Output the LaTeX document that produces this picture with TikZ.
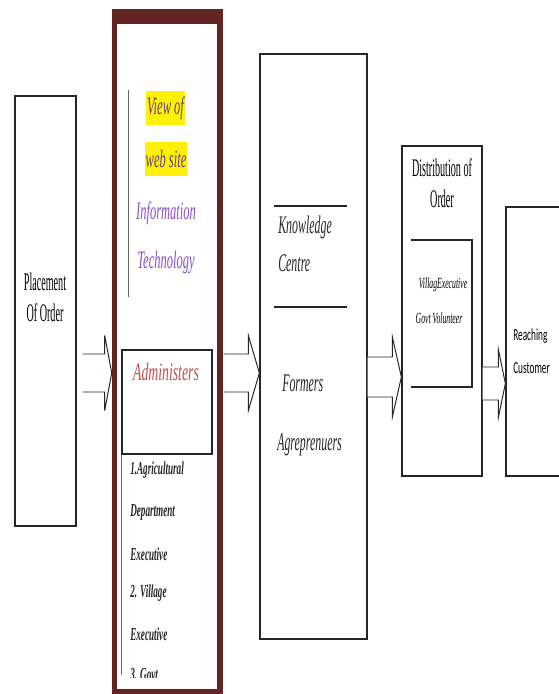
\documentclass[tikz,border=0pt]{standalone}
\usepackage{fontspec}
\setmainfont{Liberation Serif}
\newfontfamily\wordcond[FakeStretch=0.4]{Liberation Serif}
\newfontfamily\wordnarrow[FakeStretch=0.47]{Liberation Serif}
\newfontfamily\wordserif[FakeStretch=0.5]{Liberation Serif}
\newfontfamily\wordwide[FakeStretch=0.55]{Liberation Serif}
\newfontfamily\wordsans[FakeStretch=0.55]{Carlito}
\usepackage{tikz}
\usetikzlibrary{calc}
\usepackage{xcolor}

\definecolor{framebrown}{RGB}{99,37,35}
\definecolor{adminred}{RGB}{192,80,77}
\definecolor{viewpurple}{RGB}{100,60,150}
\definecolor{itpurple}{RGB}{140,80,200}

% from, tip, shaft half width, head half width, head length
\newcommand{\blockarrow}[5]{%
  \draw[blk] ($(#1)+(0,#3)$) -- ($(#2)+(-#5,#3)$) -- ($(#2)+(-#5,#4)$) -- (#2)
    -- ($(#2)+(-#5,-#4)$) -- ($(#2)+(-#5,-#3)$) -- ($(#1)+(0,-#3)$);}

\begin{document}
\begin{tikzpicture}[
  box/.style     = {draw=black!85, line width=0.9pt, fill=white, inner sep=0},
  rule/.style    = {draw=black!85, line width=1.1pt},
  thinline/.style= {draw=black!60, line width=0.6pt},
  blk/.style     = {draw=black!85, line width=0.7pt, fill=white, line join=miter},
  hilite/.style  = {fill=yellow, inner xsep=0.6pt, minimum height=0.85cm},
  itxt/.style    = {font=\wordserif\itshape\fontsize{17.8}{20}\selectfont},
  bigtxt/.style  = {font=\wordnarrow\itshape\fontsize{18}{27}\selectfont, text=black!85,
                    inner sep=0, align=left},
  listtxt/.style = {font=\wordserif\bfseries\itshape\fontsize{13}{15}\selectfont,
                    text=black!85, inner sep=0, anchor=west},
  plaintxt/.style= {font=\wordcond\fontsize{18}{22}\selectfont, align=center},
  smalltxt/.style= {font=\wordserif\itshape\fontsize{11}{13}\selectfont},
]
\clip (0,0) rectangle (13.975,-17.35);

% ---- placement of order ----------------------------------------------------
\node[box, minimum width=1.525cm, minimum height=10.75cm] (order) at (1.1375,-7.775) {};
\node[plaintxt] (ordertxt) at (1.125,-7.425) {Placement\\Of Order};

% ---- portal frame ----------------------------------------------------------
\node[fill=framebrown, minimum width=2.775cm, minimum height=17.125cm, inner sep=0]
  (portal) at (4.1875,-8.7875) {};
\node[fill=white, minimum width=2.5cm, minimum height=16.625cm, inner sep=0]
  (portalin) at (4.175,-8.9125) {};

\draw[thinline] (3.2175,-2.25) -- (3.2175,-7.425);
\node[hilite, itxt, text=viewpurple] (view) at (4.1375,-2.7)  {View of};
\node[hilite, itxt, text=viewpurple] (site) at (4.15,-3.975)  {web site};
\node[itxt, text=itpurple]           (info) at (4.15,-5.325)  {Information};
\node[itxt, text=itpurple]           (tech) at (4.15,-6.575)  {Technology};

\node[box, line width=0.8pt, minimum width=2.25cm, minimum height=2.6cm] (admin) at (4.175,-10.05) {};
\node[font=\wordwide\itshape\fontsize{17.8}{20}\selectfont, text=adminred] (admintxt)
  at (4.15,-9.3) {Administers};
\draw[thinline] (admin.south west) -- (admin.south west |- 0,-16.875);

\begin{scope}
  \clip (2.9,-11.0) rectangle (5.4,-16.925);
  \foreach \t/\y [count=\i] in {1.Agricultural/-11.75, Department/-12.8, Executive/-13.85,
                                2. Village/-14.825, Executive/-15.85, 3. Govt/-16.875}
    \node[listtxt] (list\i) at (3.25,\y) {\t};
\end{scope}

% ---- knowledge centre ------------------------------------------------------
\node[box, minimum width=2.675cm, minimum height=14.625cm] (centre) at (7.8375,-8.6625) {};
\draw[rule] (6.85,-5.15)  -- (8.675,-5.15);
\draw[rule] (6.85,-7.675) -- (8.675,-7.675);
\node[bigtxt, anchor=west] (know)   at (6.95,-6.1)     {Knowledge\\Centre};
\node[bigtxt, anchor=west] (former) at (7.05,-9.575)   {Formers};
\node[bigtxt, anchor=west] (agri)   at (6.925,-11.125) {Agreprenuers};

% ---- distribution ----------------------------------------------------------
\node[box, minimum width=2.0cm, minimum height=8.25cm] (distrib) at (11.05,-7.775) {};
\node[plaintxt] (distxt) at (11.05,-4.5875) {Distribution of\\Order};
\draw[rule, line width=0.9pt] (10.275,-6.0) -| (11.8,-9.675) -- (10.275,-9.675);
\node[smalltxt] (vill) at (11.075,-7.125) {VillagExecutive};
\node[smalltxt] (govt) at (10.975,-7.95)  {Govt Volunteer};

% ---- reaching customer -----------------------------------------------------
\node[box, minimum width=2.0cm, minimum height=6.725cm] (reach) at (13.65,-8.5375) {};
\node[font=\wordsans\fontsize{12}{23.5}\selectfont, align=left, anchor=west, inner sep=0]
  (reachtxt) at (12.825,-8.7875) {Reaching\\Customer};

% ---- block arrows ----------------------------------------------------------
\coordinate (a1s) at ($(order.east |- 0,-9.325)+(0.15,0)$);
\coordinate (a1t) at (portal.west |- 0,-9.325);
\coordinate (a2s) at (portal.east |- 0,-9.325);
\coordinate (a2t) at (centre.west |- 0,-9.325);
\coordinate (a3s) at (centre.east |- 0,-9.425);
\coordinate (a3t) at (distrib.west |- 0,-9.425);
\coordinate (a4s) at (distrib.east |- 0,-9.5875);
\coordinate (a4t) at (reach.west |- 0,-9.5875);

\blockarrow{a1s}{a1t}{0.475}{0.9375}{0.175}
\blockarrow{a2s}{a2t}{0.475}{0.9375}{0.275}
\blockarrow{a3s}{a3t}{0.5}{1.0}{0.225}
\blockarrow{a4s}{a4t}{0.4125}{0.85}{0.175}

\end{tikzpicture}
\end{document}
